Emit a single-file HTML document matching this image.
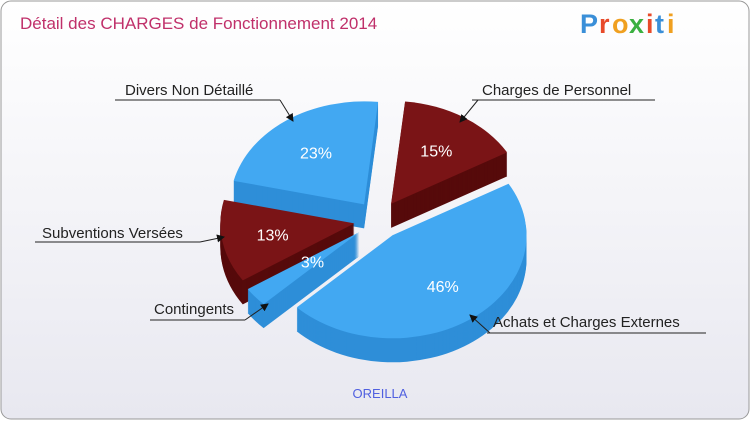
<!DOCTYPE html>
<html><head><meta charset="utf-8"><style>
body{margin:0;width:750px;height:420px;overflow:hidden;font-family:"Liberation Sans",sans-serif}
</style></head><body>
<svg id="c" width="750" height="420" xmlns="http://www.w3.org/2000/svg">
<defs>
<linearGradient id="bg" x1="0" y1="0" x2="0" y2="1"><stop offset="0" stop-color="#ffffff"/><stop offset="1" stop-color="#e8e8f0"/></linearGradient>
<marker id="ar" markerWidth="8" markerHeight="8" refX="7" refY="4" orient="auto"><path d="M0,0 L8,4 L0,8 Z" fill="#111"/></marker>
</defs>
<rect x="1" y="1" width="748" height="418" rx="10" fill="url(#bg)" stroke="#999"/>
<text x="20" y="29" font-size="17" fill="#c0306a">Détail des CHARGES de Fonctionnement 2014</text>
<g font-size="27" font-weight="bold">
<text x="580" y="33" fill="#3a8fd8">P</text><text x="599" y="33" fill="#e84a2a">r</text><text x="612" y="33" fill="#f0a020">o</text><text x="629" y="33" fill="#3ab040">x</text><text x="646" y="33" fill="#e84a2a">i</text><text x="655" y="33" fill="#3a8fd8">t</text><text x="667" y="33" fill="#f0a020">i</text>
</g>
<g id="pie"></g>
<text x="380" y="398" font-size="13" fill="#5060e0" text-anchor="middle">OREILLA</text>
<g id="labels" font-size="15" fill="#222"></g>
</svg>
<script>
const categories=["Charges de Personnel","Achats et Charges Externes","Contingents","Subventions Versées","Divers Non Détaillé"];
const values=[15,46,3,13,23];
const colors=["#7a1416","#42a8f2","#42a8f2","#7a1416","#42a8f2"];
const sideColors=["#560a0b","#2e8ed8","#2e8ed8","#560a0b","#2e8ed8"];
const NS="http://www.w3.org/2000/svg";
const cx=378,cy=220,rx=134,ry=103,depth=24,expl=24,start=6;
const pie=document.getElementById('pie');
const total=values.reduce((a,b)=>a+b,0);
function pt(a,ox,oy,r){const t=(a-90)*Math.PI/180;return [ox+rx*r*Math.cos(t),oy+ry*r*Math.sin(t)];}
function path(a0,a1,ox,oy){const p0=pt(a0,ox,oy,1),p1=pt(a1,ox,oy,1);const large=(a1-a0)>180?1:0;
return `M${ox},${oy} L${p0[0]},${p0[1]} A${rx},${ry} 0 ${large} 1 ${p1[0]},${p1[1]} Z`;}
let a=start;const slices=[];
values.forEach((v,i)=>{const span=v/total*360;const mid=a+span/2;const t=(mid-90)*Math.PI/180;
slices.push({i,a0:a,a1:a+span,mid,ox:cx+expl*Math.cos(t),oy:cy+expl*0.8*Math.sin(t)});a+=span;});
const order=slices.slice().sort((p,q)=>p.oy-q.oy);
order.forEach(s=>{
 const g=document.createElementNS(NS,'g');
 
 
 for(let d=depth;d>0;d-=1){const p=document.createElementNS(NS,'path');p.setAttribute('d',path(s.a0,s.a1,s.ox,s.oy+d));p.setAttribute('fill',sideColors[s.i]);g.appendChild(p);}
 const top=document.createElementNS(NS,'path');top.setAttribute('d',path(s.a0,s.a1,s.ox,s.oy));top.setAttribute('fill',colors[s.i]);g.appendChild(top);
 const lp=pt(s.mid,s.ox,s.oy,s.i===2?0.45:0.62);
 const tx=document.createElementNS(NS,'text');tx.setAttribute('x',lp[0]);tx.setAttribute('y',lp[1]+6);tx.setAttribute('fill','#fff');tx.setAttribute('font-size','16');tx.setAttribute('text-anchor','middle');
 tx.textContent=values[s.i]+'%';
 
 
 g.appendChild(tx);pie.appendChild(g);
});
const labels=document.getElementById('labels');
const leaders=[
 {t:"Charges de Personnel",x:482,y:95,l0:472,l1:655,ly:100,ax:478,tx2:460,ty2:122},
 {t:"Achats et Charges Externes",x:493,y:327,l0:487,l1:706,ly:333,ax:490,tx2:470,ty2:315},
 {t:"Contingents",x:154,y:314,l0:150,l1:245,ly:320,ax:245,tx2:268,ty2:304},
 {t:"Subventions Versées",x:42,y:238,l0:35,l1:200,ly:242,ax:200,tx2:224,ty2:237},
 {t:"Divers Non Détaillé",x:125,y:95,l0:115,l1:280,ly:100,ax:280,tx2:293,ty2:121}];
leaders.forEach(o=>{
 const g=document.createElementNS(NS,'g');
 
 
 const t=document.createElementNS(NS,'text');t.setAttribute('x',o.x);t.setAttribute('y',o.y);t.textContent=o.t;g.appendChild(t);
 const l=document.createElementNS(NS,'path');l.setAttribute('d',`M${o.l0},${o.ly} L${o.l1},${o.ly} M${o.ax},${o.ly} L${o.tx2},${o.ty2}`);
 l.setAttribute('stroke','#222');l.setAttribute('fill','none');l.setAttribute('marker-end','url(#ar)');g.appendChild(l);
 labels.appendChild(g);
});
</script>
</body></html>
